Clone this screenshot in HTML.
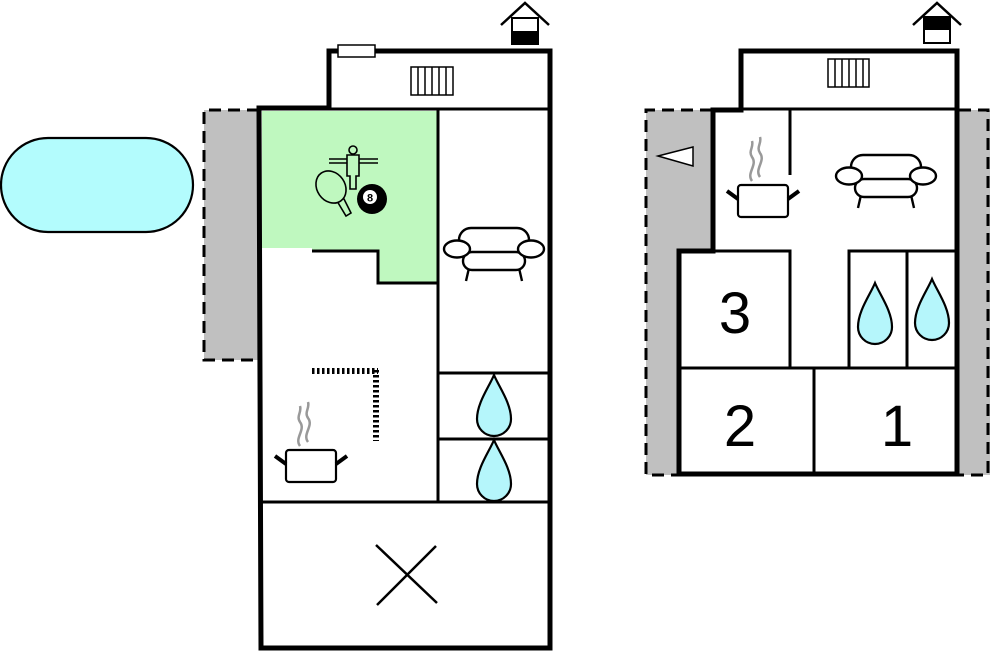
<!DOCTYPE html>
<html><head><meta charset="utf-8"><style>html,body{margin:0;padding:0;background:#fff}svg{display:block}</style></head>
<body>
<svg width="990" height="652" viewBox="0 0 990 652" xmlns="http://www.w3.org/2000/svg" font-family="Liberation Sans, sans-serif">
<defs>
<g id="sofa" fill="#fff" stroke="#000" stroke-width="2.4">
  <line x1="-25" y1="18" x2="-28" y2="31"/><line x1="25" y1="18" x2="28" y2="31"/>
  <rect x="-35" y="-22" width="70" height="32" rx="12"/>
  <rect x="-31" y="2" width="62" height="18" rx="9"/>
  <ellipse cx="-37" cy="-1" rx="13" ry="8.5"/>
  <ellipse cx="37" cy="-1" rx="13" ry="8.5"/>
</g>
<path id="drop" d="M0,0 C-5,12 -17,28 -17,44 A17,17 0 0 0 17,44 C17,28 5,12 0,0 Z" fill="#b5f6fb" stroke="#000" stroke-width="2.2"/>
<g id="pot">
  <path d="M-10,-4 C-16,-12 -4,-20 -10,-28 C-14,-34 -8,-38 -10,-44 M-2,-8 C-8,-16 4,-24 -2,-32 C-6,-38 0,-42 -2,-48" fill="none" stroke="#999" stroke-width="2.5"/>
  <rect x="-24" y="0" width="50" height="32" rx="3" fill="#fff" stroke="#000" stroke-width="2.2"/>
  <line x1="-24" y1="14" x2="-35" y2="6" stroke="#000" stroke-width="4"/>
  <line x1="26" y1="14" x2="37" y2="6" stroke="#000" stroke-width="4"/>
</g>
</defs>

<rect x="1" y="138" width="192" height="94" rx="47" fill="#b3fcfd" stroke="#000" stroke-width="2.2"/>

<rect x="204" y="110" width="56" height="250" fill="#c0c0c0"/>
<path d="M259,110 H204 V360 H259" fill="none" stroke="#000" stroke-width="3" stroke-dasharray="12,7"/>

<path d="M262,111 H438 V283 H378 V251 H312 V248 H262 Z" fill="#bff8bf"/>
<path d="M312,251 H378 V283 H438" fill="none" stroke="#000" stroke-width="3"/>

<path d="M259,108 H329 V51 H550 V648 H261 Z" fill="none" stroke="#000" stroke-width="5"/>
<line x1="329" y1="109" x2="550" y2="109" stroke="#000" stroke-width="3"/>
<line x1="438" y1="109" x2="438" y2="502" stroke="#000" stroke-width="3"/>
<line x1="438" y1="373" x2="550" y2="373" stroke="#000" stroke-width="3"/>
<line x1="438" y1="439" x2="550" y2="439" stroke="#000" stroke-width="3"/>
<line x1="259" y1="502" x2="550" y2="502" stroke="#000" stroke-width="3"/>
<rect x="338" y="45" width="37" height="12" fill="#fff" stroke="#000" stroke-width="1.5"/>
<rect x="411" y="67" width="42" height="28" fill="#fff" stroke="#000" stroke-width="1.5"/>
<path d="M418,67V95M425,67V95M432,67V95M439,67V95M446,67V95" stroke="#000" stroke-width="1.5"/>

<path d="M501,25 L525,3 L549,25" fill="none" stroke="#000" stroke-width="2.5"/>
<rect x="512" y="18" width="26" height="26" fill="#fff" stroke="#000" stroke-width="2"/>
<rect x="512" y="31" width="26" height="13" fill="#000"/>

<g stroke="#000" stroke-width="1.6" fill="#bff8bf">
  <path d="M329,159 H378 M329,163 H378" fill="none"/>
  <circle cx="353" cy="150" r="4"/>
  <path d="M347,155 H359 V176 H356 V189 H350 V176 H347 Z"/>
  <path d="M337,201 L346,216 L351,213 L343,197 Z"/>
  <ellipse cx="331" cy="187" rx="14" ry="17" transform="rotate(-35 331 187)"/>
</g>
<circle cx="372" cy="199" r="15" fill="#000"/>
<circle cx="370" cy="197" r="7" fill="#fff"/>
<text x="370" y="201.5" font-size="11" font-weight="bold" text-anchor="middle">8</text>

<use href="#sofa" x="494" y="250"/>
<use href="#drop" x="494" y="375"/>
<use href="#drop" x="494" y="440"/>

<path d="M312,371 H378 M376,370 V441" fill="none" stroke="#000" stroke-width="6" stroke-dasharray="2.5,2.5"/>
<use href="#pot" x="310" y="450"/>

<path d="M376,545 L437,603 M377,605 L436,546" stroke="#000" stroke-width="2.5"/>

<path d="M646,110 H712 V250 H681 V475 H646 Z" fill="#c0c0c0"/>
<path d="M712,110 H646 V475 H681" fill="none" stroke="#000" stroke-width="3" stroke-dasharray="12,7"/>
<rect x="959" y="110" width="31" height="365" fill="#c0c0c0"/>
<path d="M959,110 H988 V475 H959" fill="none" stroke="#000" stroke-width="3" stroke-dasharray="12,7"/>
<path d="M658,156 L693,147 V166 Z" fill="#fff" stroke="#000" stroke-width="1.5"/>

<path d="M741,110 V51 H957 V474 H679 V251 H713 V110 Z" fill="none" stroke="#000" stroke-width="5"/>
<line x1="741" y1="109" x2="957" y2="109" stroke="#000" stroke-width="3"/>
<line x1="790" y1="110" x2="790" y2="175" stroke="#000" stroke-width="3"/>
<path d="M679,251 H790 V368 M849,368 V251 H957 M907,251 V368 M679,368 H957 M814,368 V474" fill="none" stroke="#000" stroke-width="3"/>
<rect x="828" y="59" width="41" height="28" fill="#fff" stroke="#000" stroke-width="1.5"/>
<path d="M835,59V87M842,59V87M849,59V87M856,59V87M863,59V87" stroke="#000" stroke-width="1.5"/>

<path d="M913,25 L937,3 L961,25" fill="none" stroke="#000" stroke-width="2.5"/>
<rect x="924" y="17" width="26" height="26" fill="#fff" stroke="#000" stroke-width="2"/>
<rect x="924" y="17" width="26" height="13" fill="#000"/>

<use href="#pot" x="762" y="185"/>
<use href="#sofa" x="886" y="177"/>
<use href="#drop" x="875" y="283"/>
<use href="#drop" x="932" y="279"/>

<text x="735" y="333" font-size="58" text-anchor="middle">3</text>
<text x="740" y="446" font-size="58" text-anchor="middle">2</text>
<text x="897" y="446" font-size="58" text-anchor="middle">1</text>
</svg>
</body></html>
